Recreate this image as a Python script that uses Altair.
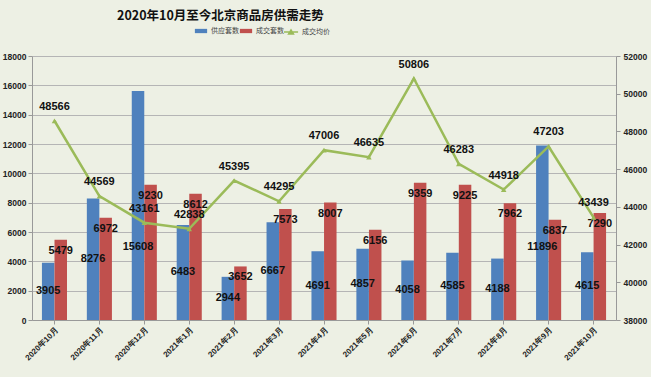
import altair as alt
import pandas as pd

months = ["2020年10月", "2020年11月", "2020年12月", "2021年1月", "2021年2月", "2021年3月",
          "2021年4月", "2021年5月", "2021年6月", "2021年7月", "2021年8月", "2021年9月", "2021年10月"]
supply = [3905, 8276, 15608, 6483, 2944, 6667, 4691, 4857, 4058, 4585, 4188, 11896, 4615]
deals = [5479, 6972, 9230, 8612, 3652, 7573, 8007, 6156, 9359, 9225, 7962, 6837, 7290]
price = [48566, 44569, 43161, 42838, 45395, 44295, 47006, 46635, 50806, 46283, 44918, 47203, 43439]
left_ticks = [0, 2000, 4000, 6000, 8000, 10000, 12000, 14000, 16000, 18000]
right_ticks = [38000, 40000, 42000, 44000, 46000, 48000, 50000, 52000]

series = ["供应套数", "成交套数", "成交均价"]
colors = ["#4F81BD", "#C0504D", "#9BBB59"]

bars_df = pd.DataFrame(
    [{"month": m, "series": series[0], "v": s} for m, s in zip(months, supply)]
    + [{"month": m, "series": series[1], "v": d} for m, d in zip(months, deals)]
)
line_df = pd.DataFrame({"month": months, "series": series[2], "p": price})

BG = "#edf0e4"
LBL = "Liberation Sans"

xaxis = alt.Axis(title=None, labelAngle=-45, labelFontSize=8, labelFontWeight="bold",
                 labelFont=LBL, labelColor="#222", domainColor="#999", tickColor="#999",
                 tickSize=4, labelPadding=2, labelOverlap=False)
xscale = alt.Scale(paddingInner=0.44, paddingOuter=0.22)


def xenc():
    return alt.X("month:N", sort=months, scale=xscale, axis=xaxis)


laxis = alt.Axis(title=None, values=left_ticks, format="d", labelOverlap=False, labelFontSize=8.5,
                 labelFontWeight="bold", labelFont=LBL, labelColor="#222", grid=True,
                 gridColor="#b5b5b5", domainColor="#999", tickColor="#999", tickSize=4,
                 labelPadding=2)
lscale = alt.Scale(domain=[0, 18000], nice=False)

raxis = alt.Axis(title=None, orient="right", values=right_ticks, format="d", labelOverlap=False,
                 labelFontSize=8.5, labelFontWeight="bold", labelFont=LBL, labelColor="#222",
                 grid=False, domainColor="#999", tickColor="#999", tickSize=4, labelPadding=3)
rscale = alt.Scale(domain=[38000, 52000], nice=False)

fill = alt.Fill("series:N", scale=alt.Scale(domain=series[:2], range=colors[:2]),
                legend=alt.Legend(
                    title=None, orient="none", legendX=162, legendY=-32, direction="horizontal",
                    labelFontSize=7, labelColor="#444", labelFont="Noto Sans CJK SC",
                    symbolType="M-1,-0.35H1V0.35H-1Z", symbolSize=150, columnPadding=0,
                    labelOffset=3))

stroke = alt.Stroke("series:N", scale=alt.Scale(domain=series[2:], range=colors[2:]),
                    legend=alt.Legend(
                        title=None, orient="none", legendX=251, legendY=-32, direction="horizontal",
                        labelFontSize=7, labelColor="#444", labelFont="Noto Sans CJK SC",
                        symbolType="M-1,0H1M-0.35,0.3L0,-0.3L0.35,0.3Z", symbolSize=200,
                        symbolFillColor="#9BBB59", symbolStrokeWidth=1.5, labelOffset=3))

xoff = alt.XOffset("series:N", sort=series[:2])

bars = alt.Chart(bars_df).mark_bar(size=12.5).encode(
    x=xenc(), xOffset=xoff, y=alt.Y("v:Q", scale=lscale, axis=laxis), fill=fill)

blue_lbl = alt.Chart(bars_df).transform_filter(alt.datum.series == series[0]).transform_calculate(
    ly="min(datum.v / 2, 5000)").mark_text(fontSize=11, fontWeight="bold", font=LBL, color="#111").encode(
    x=xenc(), xOffset=xoff,
    y=alt.Y("ly:Q", scale=lscale, axis=laxis), text=alt.Text("v:Q", format="d"))

red_lbl = alt.Chart(bars_df).transform_filter(alt.datum.series == series[1]).mark_text(
    fontSize=11, fontWeight="bold", font=LBL, color="#111", dy=11).encode(
    x=xenc(), xOffset=xoff,
    y=alt.Y("v:Q", scale=lscale, axis=laxis), text=alt.Text("v:Q", format="d"))

left = alt.layer(bars, blue_lbl, red_lbl)

line = alt.Chart(line_df).mark_line(strokeWidth=2.5).encode(
    x=xenc(), y=alt.Y("p:Q", scale=rscale, axis=raxis), stroke=stroke)
pts = alt.Chart(line_df).mark_point(shape="triangle-up", filled=True, size=30, opacity=1,
                                    color="#9BBB59").encode(
    x=xenc(), y=alt.Y("p:Q", scale=rscale, axis=raxis))
line_lbl = alt.Chart(line_df).mark_text(fontSize=11, fontWeight="bold", font=LBL, color="#111",
                                        dy=-14).encode(
    x=xenc(), y=alt.Y("p:Q", scale=rscale, axis=raxis), text=alt.Text("p:Q", format="d"))

right = alt.layer(line, pts, line_lbl)

chart = alt.layer(left, right).resolve_scale(y="independent").properties(
    width=584, height=264,
    autosize=alt.AutoSizeParams(type="none"),
    padding={"left": 32, "top": 56, "right": 35, "bottom": 57},
    background=BG,
    title=alt.TitleParams("2020年10月至今北京商品房供需走势", anchor="start", frame="group", dx=85,
                          offset=2, fontSize=12.5, fontWeight="bold", font="Noto Sans CJK SC",
                          color="#111"),
).configure_view(stroke=None, fill=BG)

chart.save("out.html", embed_options={"renderer": "svg", "actions": False})
